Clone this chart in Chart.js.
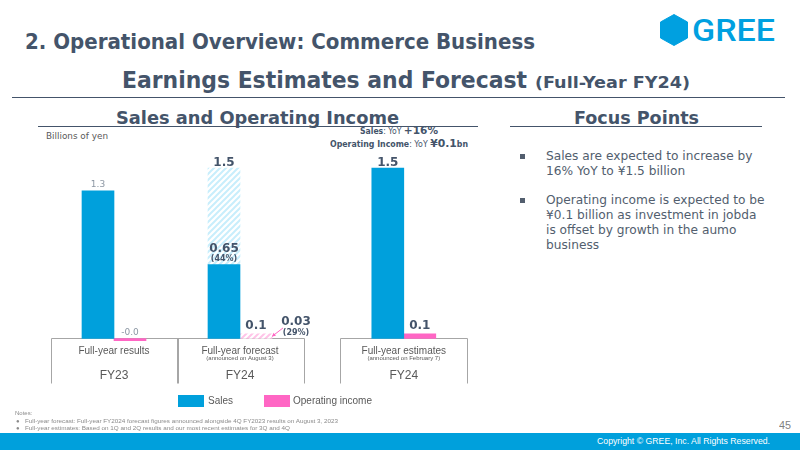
<!DOCTYPE html>
<html>
<head>
<meta charset="utf-8">
<script src="https://cdn.jsdelivr.net/npm/chart.js"></script>
<style>
  body { margin: 0; width: 800px; height: 450px; position: relative; overflow: hidden; background: #fff; font-family: "DejaVu Sans", sans-serif; color: #44546a; }
  .t { position: absolute; white-space: nowrap; line-height: 1; transform-origin: 0 50%; }
  .cond { font-family: "DejaVu Sans Condensed", "DejaVu Sans", sans-serif; font-weight: bold; }
  .rule { position: absolute; height: 1px; background: #44546a; }
  .gray { color: #595959; }
  .bul { position: absolute; left: 546px; font-size: 12.2px; line-height: 15px; color: #525e6e; white-space: nowrap; }
  .sq { position: absolute; left: 520px; width: 5px; height: 5px; background: #525e6e; }
  .note { font-family: "Liberation Sans", sans-serif; font-size: 6px; color: #8a8a8a; }
  #chartBox { position: absolute; left: 30px; top: 130px; width: 460px; height: 270px; }
</style>
</head>
<body>
<div class="t cond" style="left:25px;top:31.4px;font-size:22px" data-w="510">2. Operational Overview: Commerce Business</div>

<svg style="position:absolute;left:660px;top:14px" width="28" height="32" viewBox="0 0 28 32">
  <polygon points="14,0.5 27.5,8 27.5,24 14,31.5 0.5,24 0.5,8" fill="#00a0e0" stroke="#00a0e0" stroke-linejoin="round" stroke-width="1"/>
</svg>
<div class="t" style="left:692px;top:15px;font-size:31px;color:#00a0e0;font-family:Roboto,sans-serif;font-weight:500" data-w="83">GREE</div>

<div class="t cond" style="left:122px;top:69px;font-size:23px" data-w="405">Earnings Estimates and Forecast</div>
<div class="t cond" style="left:535px;top:75px;font-size:16px" data-w="155">(Full-Year FY24)</div>
<div class="rule" style="left:12px;top:97px;width:773px"></div>

<div class="t" style="left:116px;top:109.8px;font-size:17px;font-weight:bold" data-w="283">Sales and Operating Income</div>
<div class="rule" style="left:38px;top:126px;width:440px"></div>
<div class="t" style="left:574px;top:109.8px;font-size:17px;font-weight:bold" data-w="125">Focus Points</div>
<div class="rule" style="left:510px;top:126px;width:252px"></div>

<div class="t gray" style="left:46px;top:131.7px;font-size:9px" data-w="62">Billions of yen</div>
<div class="t" style="left:360px;top:125px;font-size:8px;line-height:11px" data-w="78"><b>Sales</b>: YoY <b style="font-size:11px">+16%</b></div>
<div class="t" style="left:330px;top:138px;font-size:8px;line-height:11px" data-w="138"><b>Operating Income</b>: YoY <b style="font-size:11px">¥0.1</b><b>bn</b></div>

<div class="sq" style="top:154px"></div>
<div class="bul" style="top:148.7px">Sales are expected to increase by<br>16% YoY to ¥1.5 billion</div>
<div class="sq" style="top:198px"></div>
<div class="bul" style="top:192.7px">Operating income is expected to be<br>¥0.1 billion as investment in jobda<br>is offset by growth in the aumo<br>business</div>

<div id="chartBox"><canvas id="chart"></canvas></div>

<div style="position:absolute;left:178px;top:395px;width:26px;height:12px;background:#00a0dc"></div>
<div class="t gray" style="left:208px;top:396.2px;font-family:'Liberation Sans',sans-serif;font-size:10px" data-w="25">Sales</div>
<div style="position:absolute;left:264px;top:395px;width:26px;height:12px;background:#ff66c4"></div>
<div class="t gray" style="left:293px;top:396.2px;font-family:'Liberation Sans',sans-serif;font-size:10px" data-w="79">Operating income</div>

<div class="t note" style="left:15px;top:410px">Notes:</div>
<div class="t note" style="left:16px;top:418px">●</div>
<div class="t note" style="left:25px;top:418px" data-w="313">Full-year forecast: Full-year FY2024 forecast figures announced alongside 4Q FY2023 results on August 3, 2023</div>
<div class="t note" style="left:16px;top:425px">●</div>
<div class="t note" style="left:25px;top:425px" data-w="265">Full-year estimates: Based on 1Q and 2Q results and our most recent estimates for 3Q and 4Q</div>
<div class="t" style="left:779px;top:419.7px;font-size:11px;color:#7f7f7f;font-family:'Liberation Sans',sans-serif" data-w="12">45</div>

<div style="position:absolute;left:0;top:433px;width:800px;height:17px;background:#00a0dc"></div>
<div class="t" style="left:597px;top:437px;font-size:9px;color:#fff;font-family:'Liberation Sans',sans-serif" data-w="173">Copyright © GREE, Inc. All Rights Reserved.</div>

<script>
// chart data
const categories = ['Full-year results', 'Full-year forecast', 'Full-year estimates'];
const categoryNotes = ['', '(announced on August 3)', '(announced on February 7)'];
const fiscalYears = ['FY23', 'FY24', 'FY24'];
const categoryPos = [0, 1, 2.3];
const sales = [1.3, 1.5, 1.5];
const salesProgress = [null, 0.65, null];
const opIncome = [-0.02, 0.04, 0.04];
const opIsForecast = [false, true, false];
const salesLabels = ['1.3', '1.5', '1.5'];
const opLabels = ['-0.0', '0.1', '0.1'];
const salesProgressLabels = [null, ['0.65', '(44%)'], null];
const opProgressLabels = [null, ['0.03', '(29%)'], null];

const BLUE = '#00a0dc', PINK = '#ff66c4', DARK = '#44546a', MUTED = '#8c97a3';

function hatch(color) {
  const c = document.createElement('canvas');
  c.width = 6; c.height = 6;
  const g = c.getContext('2d');
  g.fillStyle = '#fff';
  g.fillRect(0, 0, 6, 6);
  g.strokeStyle = color;
  g.lineWidth = 2;
  g.beginPath();
  g.moveTo(0, 6); g.lineTo(6, 0);
  g.moveTo(-1, 1); g.lineTo(1, -1);
  g.moveTo(5, 7); g.lineTo(7, 5);
  g.stroke();
  return g.createPattern(c, 'repeat');
}

function pts(values) {
  return values.map((v, i) => ({ x: categoryPos[i], y: v }));
}

const salesSolid = sales.map((v, i) => salesProgress[i] == null ? v : salesProgress[i]);
const salesRest = sales.map((v, i) => salesProgress[i] == null ? null : v - salesProgress[i]);
const opSolid = opIncome.map((v, i) => opIsForecast[i] ? null : v);
const opHatch = opIncome.map((v, i) => opIsForecast[i] ? v : null);

function text(ctx, str, x, cy, size, bold, color, family) {
  ctx.font = (bold ? 'bold ' : '') + size + 'px ' + (family || '"DejaVu Sans"');
  ctx.fillStyle = color;
  ctx.textAlign = 'center';
  ctx.textBaseline = 'alphabetic';
  ctx.fillText(str, x, cy + size * 0.36);
}

const boxes = {
  id: 'boxes',
  beforeDatasetsDraw(chart) {
    const { ctx, scales: { x, y } } = chart;
    const top = Math.round(y.getPixelForValue(0)) + 0.5;
    ctx.save();
    ctx.strokeStyle = '#a6a6a6';
    ctx.lineWidth = 1;
    categoryPos.forEach((v, i) => {
      const cx = x.getPixelForValue(v);
      const l = Math.round(cx - 63.5) + 0.5, r = Math.round(cx + 63.5) + 0.5;
      ctx.beginPath();
      ctx.moveTo(l, top + 45); ctx.lineTo(l, top); ctx.lineTo(r, top); ctx.lineTo(r, top + 45);
      ctx.stroke();
      text(ctx, categories[i], cx, top + 11.5, 10, false, '#595959', '"Liberation Sans"');
      if (categoryNotes[i]) text(ctx, categoryNotes[i], cx, top + 19.5, 6, false, '#595959', '"Liberation Sans"');
      text(ctx, fiscalYears[i], cx, top + 36.5, 12, false, '#595959', '"Liberation Sans"');
    });
    ctx.restore();
  }
};

const labels = {
  id: 'labels',
  afterDatasetsDraw(chart) {
    const ctx = chart.ctx;
    const zero = chart.scales.y.getPixelForValue(0);
    ctx.save();
    sales.forEach((v, i) => {
      const solid = chart.getDatasetMeta(0).data[i];
      const rest = chart.getDatasetMeta(1).data[i];
      const topEl = salesRest[i] == null ? solid : rest;
      if (i === 0) text(ctx, salesLabels[i], topEl.x, topEl.y - 7, 9, false, MUTED);
      else text(ctx, salesLabels[i], topEl.x, topEl.y - 7, 12, true, DARK);
      if (salesProgressLabels[i]) {
        text(ctx, salesProgressLabels[i][0], solid.x, solid.y - 17, 12, true, DARK);
        text(ctx, salesProgressLabels[i][1], solid.x, solid.y - 7, 8, true, DARK);
      }
    });
    opIncome.forEach((v, i) => {
      const el = chart.getDatasetMeta(opIsForecast[i] ? 3 : 2).data[i];
      const top = Math.min(el.y, zero);
      if (i === 0) text(ctx, opLabels[i], el.x, zero - 6.5, 9, false, MUTED);
      else text(ctx, opLabels[i], el.x, top - 9, 12, true, DARK);
      if (opProgressLabels[i]) {
        text(ctx, opProgressLabels[i][0], el.x + 40, top - 13, 12, true, DARK);
        text(ctx, opProgressLabels[i][1], el.x + 40, top - 2, 8, true, DARK);
        const x1 = el.x + 27, y1 = top - 6, x2 = el.x + 16, y2 = top + 2.5;
        const a = Math.atan2(y2 - y1, x2 - x1);
        ctx.strokeStyle = PINK; ctx.fillStyle = PINK; ctx.lineWidth = 1;
        ctx.beginPath(); ctx.moveTo(x1, y1); ctx.lineTo(x2, y2); ctx.stroke();
        ctx.beginPath();
        ctx.moveTo(x2, y2);
        ctx.lineTo(x2 - 4 * Math.cos(a - 0.5), y2 - 4 * Math.sin(a - 0.5));
        ctx.lineTo(x2 - 4 * Math.cos(a + 0.5), y2 - 4 * Math.sin(a + 0.5));
        ctx.closePath(); ctx.fill();
      }
    });
    ctx.restore();
  }
};

new Chart(document.getElementById('chart'), {
  type: 'bar',
  data: {
    datasets: [
      { label: 'Sales', stack: 's', data: pts(salesSolid), backgroundColor: BLUE },
      { label: 'Sales (forecast)', stack: 's', data: pts(salesRest), backgroundColor: hatch('#c8eefc') },
      { label: 'Operating income', stack: 'o', data: pts(opSolid), backgroundColor: PINK },
      { label: 'Operating income (forecast)', stack: 'o', data: pts(opHatch), backgroundColor: hatch('#ffc4e8') }
    ]
  },
  options: {
    responsive: true,
    maintainAspectRatio: false,
    animation: false,
    barThickness: 32,
    borderWidth: 0,
    layout: { padding: { left: 8.4, right: 10.6, top: 15.5, bottom: 16.1 } },
    plugins: { legend: { display: false }, tooltip: { enabled: false } },
    scales: {
      x: { type: 'linear', min: -0.6, max: 2.9, offset: false, stacked: true, display: false },
      y: { min: -0.4, max: 1.7, stacked: true, display: false }
    }
  },
  plugins: [boxes, labels]
});

// squeeze slide texts to the widths in the original
function fit() {
  document.querySelectorAll('[data-w]').forEach(el => {
    el.style.transform = 'none';
    const w = el.getBoundingClientRect().width;
    el.style.transform = 'scaleX(' + (el.dataset.w / w) + ')';
  });
}
fit();
document.fonts.ready.then(fit);
</script>
</body>
</html>
